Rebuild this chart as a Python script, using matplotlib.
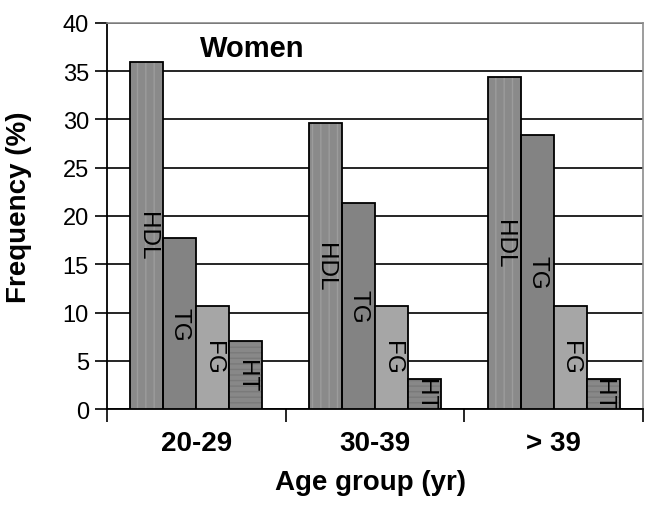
import numpy as np
import matplotlib.pyplot as plt

plt.rcParams['font.family'] = ['Liberation Sans', 'DejaVu Sans']

groups = ['20-29', '30-39', '> 39']
series = ['HDL', 'TG', 'FG', 'HT']
hdl = [36.0, 29.6, 34.4]
tg = [17.7, 21.3, 28.4]
fg = [10.7, 10.7, 10.7]
ht = [7.0, 3.1, 3.1]

values = [hdl, tg, fg, ht]
face = ['#8a8a8a', '#838383', '#a6a6a6', '#888888']
stripe = ['#9c9c9c', None, None, '#7a7a7a']
hatches = ['||', None, None, '---']

fig = plt.figure(figsize=(6.5, 5.06), dpi=100)
ax = fig.add_axes([0.1646, 0.1897, 0.8246, 0.7629])

x = np.arange(len(groups))
w = 0.185
for i, (name, vals) in enumerate(zip(series, values)):
    pos = x + (i - 1.5) * w
    if hatches[i]:
        ax.bar(pos, vals, w, color=face[i], hatch=hatches[i],
               edgecolor=stripe[i], linewidth=0, zorder=3)
        ax.bar(pos, vals, w, fill=False, edgecolor='black', linewidth=1.3, zorder=4)
    else:
        ax.bar(pos, vals, w, color=face[i], edgecolor='black', linewidth=1.3, zorder=3)
    for p, v in zip(pos, vals):
        ax.text(p, v / 2, name, rotation=-90, ha='center', va='center',
                fontsize=17.5, zorder=5, clip_on=True)

ax.set_xlim(-0.5, 2.5)
ax.set_ylim(0, 40)
ax.set_yticks(np.arange(0, 41, 5))
ax.yaxis.grid(True, color='black', linewidth=1.2, zorder=0)
ax.set_axisbelow(True)

ax.set_xticks(x)
ax.set_xticklabels(groups, fontsize=20, fontweight='bold')
ax.set_xticks([-0.5, 0.5, 1.5, 2.5], minor=True)
ax.tick_params(axis='x', which='major', length=0, pad=15)
ax.tick_params(axis='x', which='minor', length=9, width=1.2, direction='out')
ax.tick_params(axis='y', length=9, width=1.2, pad=4, labelsize=17)

for s in ['left', 'bottom']:
    ax.spines[s].set_color('black')
    ax.spines[s].set_linewidth(1.3)
for s in ['top', 'right']:
    ax.spines[s].set_color('#8c8c8c')
    ax.spines[s].set_linewidth(1.2)

ax.set_ylabel('Frequency (%)', fontsize=20, fontweight='bold')
ax.yaxis.set_label_coords(-0.14, 0.526)
ax.set_xlabel('Age group (yr)', fontsize=20, fontweight='bold')
ax.xaxis.set_label_coords(0.4925, -0.155)

ax.text(0.2705, 0.935, 'Women', transform=ax.transAxes, ha='center', va='center',
        fontsize=21, fontweight='bold')

fig.savefig('out.png', dpi=100)
